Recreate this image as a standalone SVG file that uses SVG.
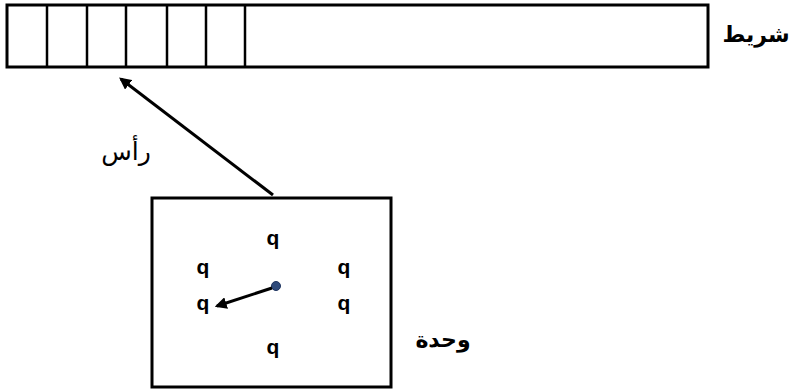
<svg xmlns="http://www.w3.org/2000/svg" width="792" height="389" viewBox="0 0 792 389">
<style>
.frame{fill:#fff;stroke:#000;stroke-width:3}
.div{stroke:#000;stroke-width:2.5}
.q{font-family:"Liberation Sans",Arial,sans-serif;font-weight:bold;font-size:21px;text-anchor:middle;fill:#000}
.ar{font-family:"DejaVu Sans","Liberation Sans",Arial,sans-serif;fill:#000;text-anchor:middle}
.conn{stroke:#000;stroke-width:3;fill:none}
</style>
<defs>
<marker id="ah" viewBox="0 0 10 10" refX="8" refY="5" markerWidth="4" markerHeight="4" orient="auto" markerUnits="strokeWidth">
<path d="M0,0 L10,5 L0,10 Z" fill="#000"/>
</marker>
</defs>
<rect width="792" height="389" fill="#fff"/>
<g id="tape">
<rect class="frame" x="7" y="5" width="701" height="62"/>
<line class="div" x1="47" y1="5" x2="47" y2="67"/>
<line class="div" x1="87" y1="5" x2="87" y2="67"/>
<line class="div" x1="126" y1="5" x2="126" y2="67"/>
<line class="div" x1="167" y1="5" x2="167" y2="67"/>
<line class="div" x1="206" y1="5" x2="206" y2="67"/>
<line class="div" x1="245" y1="5" x2="245" y2="67"/>
<text class="ar" x="756" y="42" font-size="22" font-weight="bold">شريط</text>
</g>
<g id="unit">
<rect class="frame" x="152" y="198" width="239" height="189"/>
<text class="q" x="273" y="245">q</text>
<text class="q" x="203" y="274">q</text>
<text class="q" x="344" y="274">q</text>
<text class="q" x="203" y="310">q</text>
<text class="q" x="344" y="310">q</text>
<text class="q" x="273" y="354">q</text>
<circle cx="276" cy="286" r="4.5" fill="#2E4A7A" stroke="#1F3560" stroke-width="1"/>
<text class="ar" x="443" y="347" font-size="22" font-weight="bold">وحدة</text>
</g>
<g id="head-label">
<text class="ar" x="126" y="160" font-size="25">رأس</text>
</g>
<g id="connectors">
<line class="conn" x1="273" y1="195" x2="121" y2="79" marker-end="url(#ah)"/>
<line class="conn" x1="272" y1="288" x2="217" y2="306" stroke-width="2.5" marker-end="url(#ah)"/>
</g>
</svg>
